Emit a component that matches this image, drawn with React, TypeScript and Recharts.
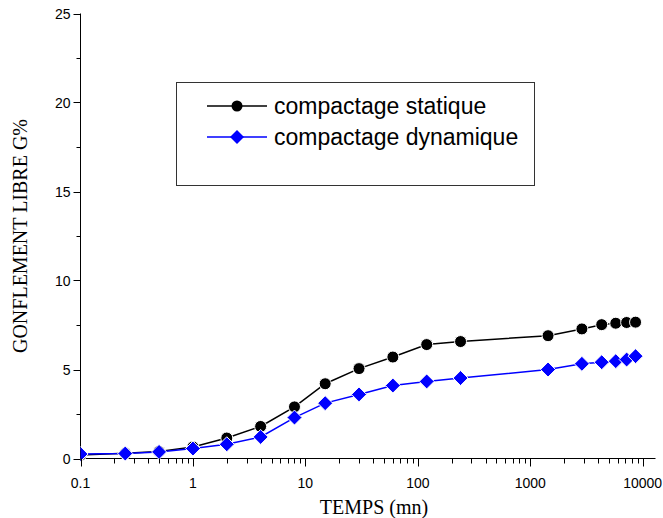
import { Line, LineChart, XAxis, YAxis } from "recharts";

// temps (mn)
const times = [0.1, 0.25, 0.5, 1, 2, 4, 8, 15, 30, 60, 120, 240, 1440, 2880, 4320, 5760, 7200, 8640];
// gonflement libre G%
const statique = [0.2, 0.3, 0.4, 0.65, 1.15, 1.8, 2.9, 4.2, 5.05, 5.7, 6.4, 6.57, 6.9, 7.28, 7.52, 7.6, 7.64, 7.66];
const dynamique = [0.25, 0.28, 0.37, 0.56, 0.8, 1.21, 2.3, 3.11, 3.6, 4.1, 4.33, 4.52, 5.0, 5.32, 5.41, 5.47, 5.56, 5.75];

const xMajor = [0.1, 1, 10, 100, 1000, 10000];
const xLabels = ["0.1", "1", "10", "100", "1000", "10000"];
const yMajor = [0, 5, 10, 15, 20, 25];
const yMinor = [2.5, 7.5, 12.5, 17.5, 22.5];
const minorSteps = [2, 3, 4, 5, 6, 7, 8, 9];

const xMinor = xMajor.slice(0, 5).flatMap((d) => minorSteps.map((m) => +(d * m).toPrecision(3)));
const xTicks = [...xMajor, ...xMinor].sort((a, b) => a - b);
const yTicks = [...yMajor, ...yMinor].sort((a, b) => a - b);

const data = times.map((t, i) => ({ t, statique: statique[i], dynamique: dynamique[i] }));

const sans = "'Liberation Sans', Arial, sans-serif";
const serif = "'Liberation Serif', 'Times New Roman', serif";

const XTick = (props: any) => {
  const { x, y, payload } = props;
  const idx = xMajor.indexOf(payload.value);
  const major = idx >= 0;
  const px = Math.round(x) + 0.5;
  return (
    <g>
      <line x1={px} y1={y} x2={px} y2={y + (major ? 8 : 5)} stroke="#000" />
      {major && (
        <text x={x} y={y + 29} textAnchor="middle" fontFamily={sans} fontSize={14} fill="#000">
          {xLabels[idx]}
        </text>
      )}
    </g>
  );
};

const YTick = (props: any) => {
  const { x, y, payload } = props;
  const major = yMajor.includes(payload.value);
  const py = Math.round(y) + 0.5;
  return (
    <g>
      <line x1={x - (major ? 7 : 4)} y1={py} x2={x} y2={py} stroke="#000" />
      {major && (
        <text x={x - 10} y={y + 5} textAnchor="end" fontFamily={sans} fontSize={14} fill="#000">
          {payload.value}
        </text>
      )}
    </g>
  );
};

const CircleDot = (props: any) => {
  const { cx, cy, index } = props;
  if (cx == null || cy == null) return <g key={index} />;
  return <circle key={index} cx={cx} cy={cy} r={6} fill="#000" stroke="#fff" strokeWidth={1} />;
};

const DiamondDot = (props: any) => {
  const { cx, cy, index } = props;
  if (cx == null || cy == null) return <g key={index} />;
  const s = 7.5;
  return (
    <polygon
      key={index}
      points={`${cx},${cy - s} ${cx + s},${cy} ${cx},${cy + s} ${cx - s},${cy}`}
      fill="#0000ff"
      stroke="#fff"
      strokeWidth={1}
    />
  );
};

const legendItems = [
  { name: "compactage statique", color: "#000000", shape: "circle" },
  { name: "compactage dynamique", color: "#0000ff", shape: "diamond" },
];

export default function App() {
  return (
    <div style={{ position: "absolute", left: 0, top: 0, width: 663, height: 518, background: "#fff" }}>
      <LineChart width={663} height={518} data={data} margin={{ top: 13.5, right: 7.5, left: 0, bottom: 0 }}>
        <defs>
          <clipPath id="plotClip">
            <rect x={80.5} y={13.5} width={575} height={445} />
          </clipPath>
        </defs>
        <XAxis
          dataKey="t"
          type="number"
          scale="log"
          domain={[0.1, 13000]}
          allowDataOverflow
          ticks={xTicks}
          interval={0}
          tickSize={0}
          tickMargin={0}
          tickLine={false}
          tick={XTick}
          axisLine={{ stroke: "#000" }}
          height={59.5}
          label={{
            content: (p: any) => {
              const vb = p.viewBox;
              return (
                <text x={vb.x + vb.width / 2 + 6} y={vb.y + 55} textAnchor="middle" fontFamily={serif} fontSize={20} fill="#000">
                  TEMPS (mn)
                </text>
              );
            },
          }}
        />
        <XAxis xAxisId="top" orientation="top" type="number" domain={[0, 1]} height={0} tick={false} tickLine={false} axisLine={{ stroke: "#000" }} />
        <YAxis
          type="number"
          domain={[0, 25]}
          ticks={yTicks}
          interval={0}
          tickSize={0}
          tickMargin={0}
          tickLine={false}
          tick={YTick}
          axisLine={{ stroke: "#000" }}
          width={80.5}
          label={{
            content: (p: any) => {
              const vb = p.viewBox;
              const cx = vb.x + 20;
              const cy = vb.y + vb.height / 2;
              return (
                <text
                  x={cx}
                  y={cy}
                  transform={`rotate(-90 ${cx} ${cy})`}
                  textAnchor="middle"
                  dominantBaseline="central"
                  fontFamily={serif}
                  fontSize={20}
                  fill="#000"
                >
                  GONFLEMENT LIBRE G%
                </text>
              );
            },
          }}
        />
        <YAxis yAxisId="right" orientation="right" type="number" domain={[0, 1]} width={0} tick={false} tickLine={false} axisLine={{ stroke: "#000" }} />
        <Line dataKey="statique" stroke="#000" strokeWidth={1.5} dot={CircleDot} activeDot={false} isAnimationActive={false} />
        <Line dataKey="dynamique" stroke="#0000ff" strokeWidth={1.5} dot={DiamondDot} activeDot={false} isAnimationActive={false} />
      </LineChart>
      <div
        style={{
          position: "absolute",
          left: 176,
          top: 82,
          width: 357,
          height: 102,
          border: "1px solid #333",
        }}
      >
        <svg width={357} height={102}>
          {legendItems.map((it, i) => {
            const y = 23 + i * 31;
            return (
              <g key={it.name}>
                <line x1={30} y1={y} x2={90} y2={y} stroke={it.color} strokeWidth={1.5} />
                {it.shape === "circle" ? (
                  <circle cx={60} cy={y} r={5.5} fill={it.color} />
                ) : (
                  <polygon points={`60,${y - 7} 67,${y} 60,${y + 7} 53,${y}`} fill={it.color} />
                )}
                <text x={97} y={y + 8} fontFamily={sans} fontSize={23} fill="#000">
                  {it.name}
                </text>
              </g>
            );
          })}
        </svg>
      </div>
    </div>
  );
}
